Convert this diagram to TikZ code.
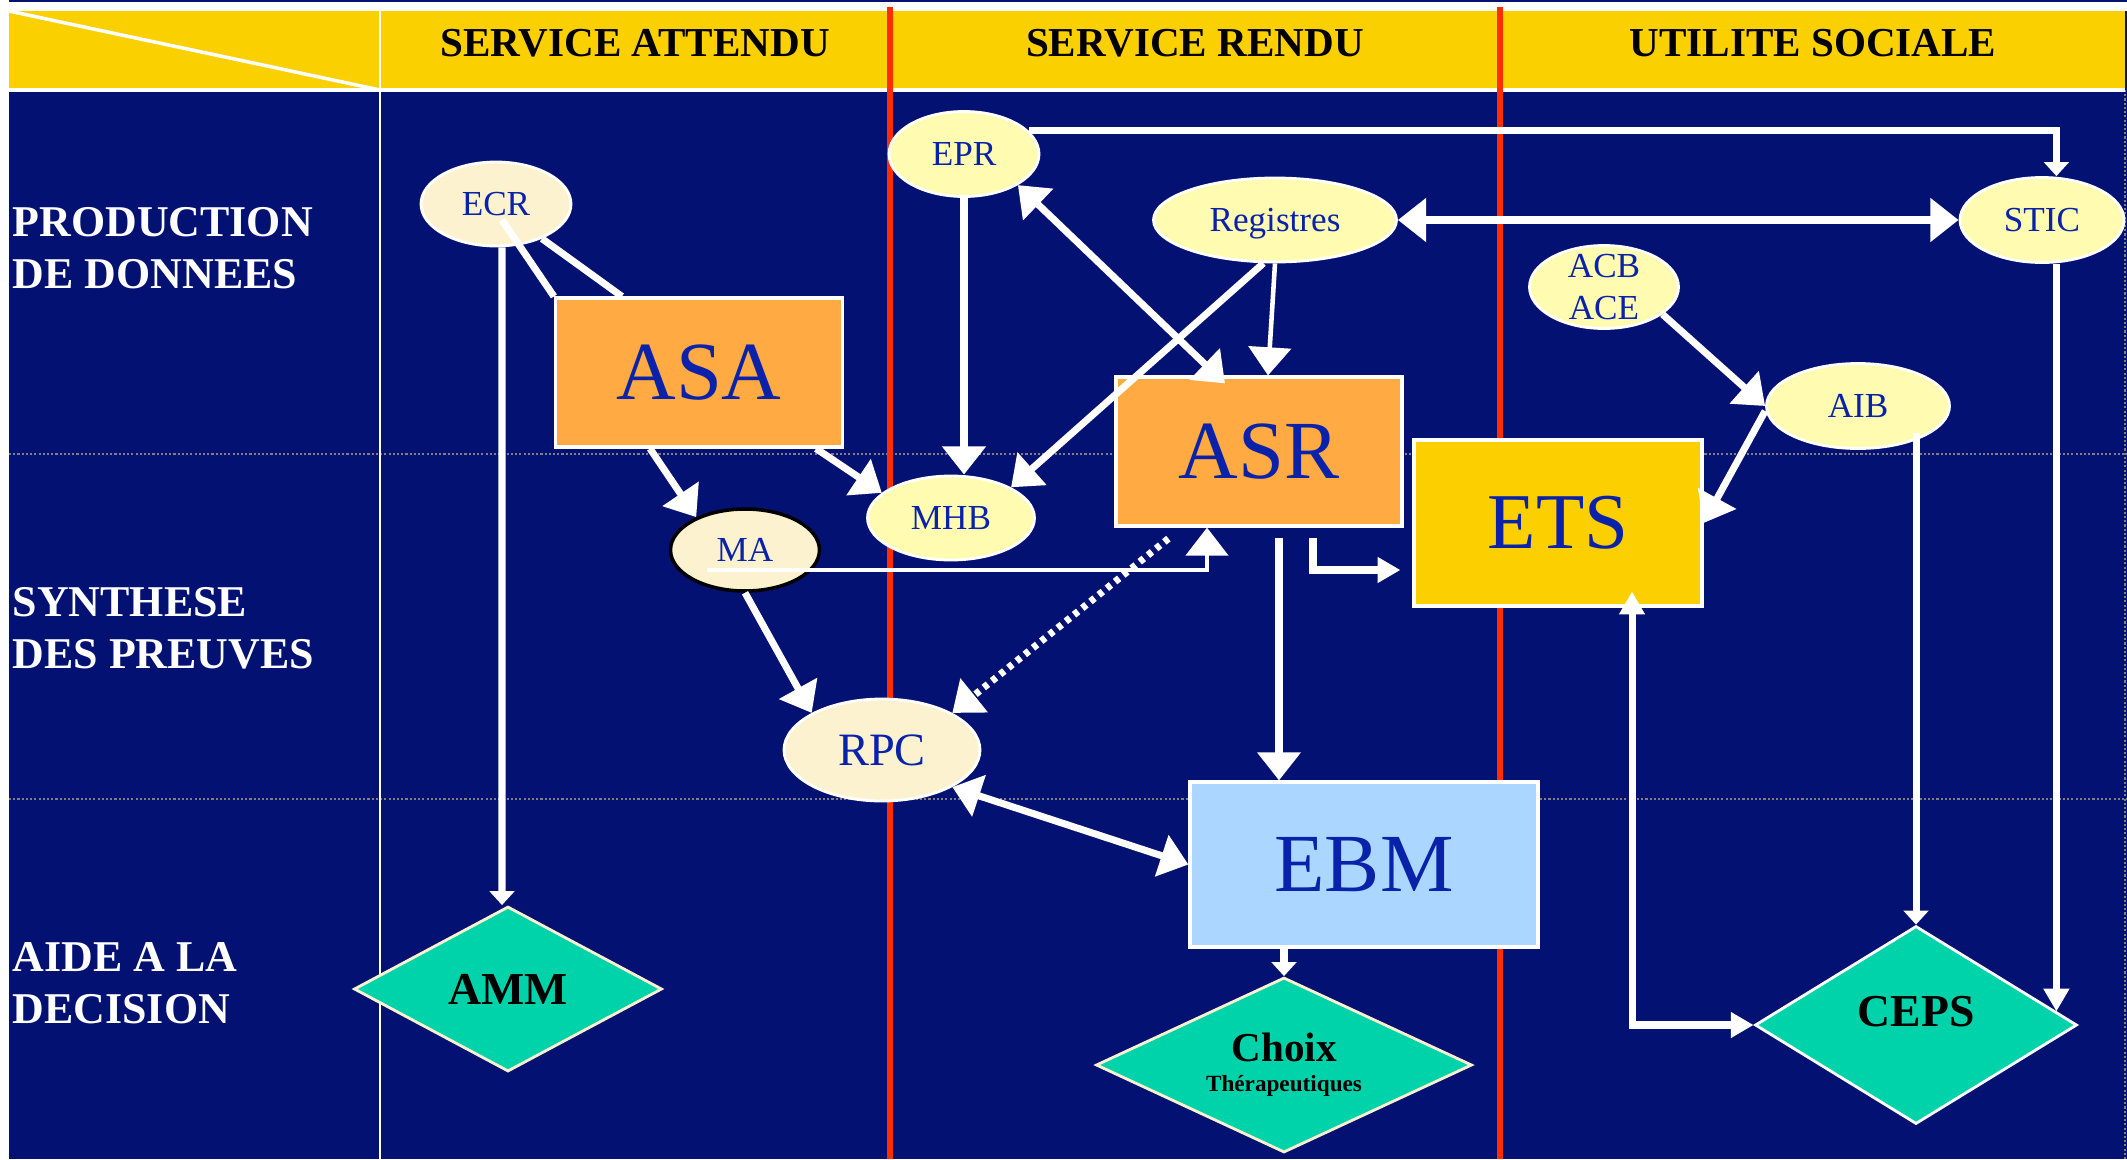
\documentclass[tikz,border=0pt]{standalone}
\usepackage{fontspec}
\setmainfont{Liberation Serif}
\usetikzlibrary{shapes.geometric,arrows.meta,calc}

\definecolor{fond}{RGB}{3,18,114}
\definecolor{bandeau}{RGB}{251,208,0}
\definecolor{trait}{RGB}{255,45,0}
\definecolor{orangeB}{RGB}{255,170,66}
\definecolor{jauneB}{RGB}{252,208,0}
\definecolor{bleuB}{RGB}{170,214,255}
\definecolor{creme}{RGB}{253,242,208}
\definecolor{paille}{RGB}{255,251,176}
\definecolor{vert}{RGB}{0,210,170}
\definecolor{encre}{RGB}{10,34,170}

\begin{document}
\begin{tikzpicture}[
  titre/.style={font=\bfseries\fontsize{11.7}{14}\selectfont},
  ligne/.style={anchor=north west, inner sep=0pt, align=left, text=white, font=\bfseries\fontsize{12.5}{14.8}\selectfont},
  bulle/.style={ellipse, draw=white, line width=0.8pt, fill=paille, inner sep=0pt, text depth=0pt, text=encre, font=\fontsize{10}{12}\selectfont},
  boite/.style={rectangle, draw=white, line width=0.9pt, inner sep=0pt, text=encre, font=\fontsize{23.5}{26}\selectfont},
  losange/.style={diamond, aspect=2, draw=white, line width=0.8pt, fill=vert, inner sep=0pt, font=\bfseries\fontsize{13}{15}\selectfont},
  lien/.style={white, line width=2pt},
  fleche/.style={lien, -{Triangle[width=12pt,length=8pt]}},
  doublefleche/.style={lien, {Triangle[width=12pt,length=8pt]}-{Triangle[width=12pt,length=8pt]}},
  moyennefleche/.style={lien, -{Triangle[width=7pt,length=6.5pt]}},
  petitefleche/.style={lien, -{Triangle[width=7pt,length=4pt]}}
]

\def\W{21.27}
\def\H{11.59}
\def\xA{3.80}
\def\xB{8.90}
\def\xC{15.00}
\def\yT{11.48}
\def\yH{10.69}

\useasboundingbox (0,0) rectangle (\W,\H);
\fill[white] (0,0) rectangle (\W,\H);
\fill[fond] (0.09,0) rectangle (\W,\H);
\fill[white] (0.09,\yT) rectangle (\W,11.57);
\fill[bandeau] (0.09,\yH) rectangle (21.25,\yT);

\draw[gray, line width=0.7pt, dash pattern=on 0.6pt off 0.6pt] (0.09,7.05) -- (\W,7.05);
\draw[gray, line width=0.7pt, dash pattern=on 0.6pt off 0.6pt] (0.09,3.60) -- (\W,3.60);
\draw[gray, line width=0.7pt, dash pattern=on 0.6pt off 0.6pt] (21.25,\yH) -- (21.25,0);

\draw[white, line width=0.9pt] (0.09,\yH) -- (21.25,\yH);
\draw[white, line width=1pt] (0.09,\yT) -- (\xA,\yH);
\draw[white, line width=0.6pt] (\xA,\yT) -- (\xA,0);

\draw[trait, line width=1.8pt] (\xB,11.52) -- (\xB,0);
\draw[trait, line width=1.8pt] (\xC,11.52) -- (\xC,0);

\node[titre] (hSA) at (6.35,11.155) {SERVICE ATTENDU};
\node[titre] (hSR) at (11.95,11.155) {SERVICE RENDU};
\node[titre] (hUS) at (18.13,11.155) {UTILITE SOCIALE};

\node[ligne] (lProd) at (0.12,9.52) {PRODUCTION\\DE DONNEES};
\node[ligne] (lSynt) at (0.12,5.72) {SYNTHESE\\DES PREUVES};
\node[ligne] (lAide) at (0.12,2.17) {AIDE A LA\\DECISION};

\node[bulle, fill=creme, minimum width=1.50cm, minimum height=0.84cm] (ECR) at (4.96,9.55) {ECR};
\node[boite, fill=orangeB, minimum width=2.87cm, minimum height=1.49cm] (ASA) at (6.99,7.865) {ASA};
\node[bulle, minimum width=1.50cm, minimum height=0.85cm] (EPR) at (9.64,10.05) {EPR};
\node[bulle, minimum width=2.43cm, minimum height=0.84cm] (Registres) at (12.75,9.39) {Registres};
\node[bulle, minimum width=1.64cm, minimum height=0.85cm] (STIC) at (20.42,9.39) {STIC};
\node[bulle, minimum width=1.49cm, minimum height=0.83cm, align=center, inner sep=-0.5mm] (ACB) at (16.04,8.72) {ACB\\ACE};
\node[bulle, minimum width=1.83cm, minimum height=0.85cm] (AIB) at (18.58,7.53) {AIB};
\node[boite, fill=orangeB, minimum width=2.86cm, minimum height=1.49cm] (ASR) at (12.59,7.075) {ASR};
\node[boite, fill=jauneB, minimum width=2.88cm, minimum height=1.66cm, font=\fontsize{22.5}{26}\selectfont] (ETS) at (15.58,6.36) {ETS};
\node[bulle, minimum width=1.67cm, minimum height=0.84cm] (MHB) at (9.51,6.41) {MHB};
\node[bulle, fill=creme, draw=black, line width=1pt, minimum width=1.49cm, minimum height=0.82cm] (MA) at (7.45,6.09) {MA};
\node[bulle, fill=creme, minimum width=1.96cm, minimum height=1.02cm, font=\fontsize{13.2}{15}\selectfont] (RPC) at (8.82,4.09) {RPC};
\node[boite, fill=bleuB, minimum width=3.48cm, minimum height=1.65cm] (EBM) at (13.64,2.945) {EBM};
\node[losange, draw=creme, minimum width=3.08cm, minimum height=1.65cm] (AMM) at (5.08,1.70) {AMM};
\node[losange, draw=creme, minimum width=3.76cm, minimum height=1.75cm, align=center, font=\bfseries\fontsize{11.7}{14}\selectfont] (Choix) at (12.84,0.94) {Choix\\[-5.5pt]{\fontsize{6.6}{8}\selectfont Thérapeutiques}};
\node[losange, minimum width=3.22cm, minimum height=1.98cm] (CEPS) at (19.16,1.34) {\raisebox{2.8mm}{CEPS}};

\coordinate (cepsNE) at ([shift={(-0.22,0.135)}]CEPS.east);

\draw[lien] ([shift={(0.06,-0.16)}]ECR.center) -- (ASA.north west);
\draw[lien] (ECR.-37) -- ([xshift=6.8mm]ASA.north west);
\draw[petitefleche] ([xshift=0.6mm]ECR.south) -- ([xshift=-0.6mm]AMM.north);
\draw[fleche] ([xshift=-4.9mm]ASA.south) -- (MA.146);
\draw[fleche] ([xshift=-2.8mm]ASA.south east) -- (MHB.160);

\draw[fleche] (EPR.south) -- (EPR.south |- MHB.north);
\draw[fleche] (Registres.255) -- (MHB.north east);
\draw[doublefleche] (EPR.-30) -- ([xshift=-3.4mm,yshift=-0.8mm]ASR.north);
\draw[fleche, line width=1.3pt] (Registres.south) -- ([xshift=0.9mm]ASR.north);
\draw[doublefleche] (Registres.east) -- (STIC.west);
\draw[petitefleche] (EPR.20) -| (cepsNE |- STIC.north);
\draw[moyennefleche] (cepsNE |- STIC.south) -- (cepsNE);

\draw[fleche] (ACB.-25) -- (AIB.west);
\draw[fleche] ([yshift=-0.5mm]AIB.west) -- (ETS.east);
\draw[petitefleche] ($(CEPS.north |- AIB.south)+(0,0.17)$) -- (CEPS.north);
\draw[lien, {Triangle[width=7pt,length=6.5pt]}-{Triangle[width=7pt,length=6.5pt]}] ([xshift=7.4mm,yshift=1.6mm]ETS.south) |- (CEPS.west);

\draw[moyennefleche] ([xshift=5.4mm,yshift=-1mm]ASR.south) |- ([xshift=-1.2mm,yshift=-4.7mm]ETS.west);
\draw[fleche] ($(ASR.south)+(0.2,-0.1)$) -- ($(ASR.south |- EBM.north)+(0.2,0)$);
\draw[fleche, line width=1.3pt] ([shift={(-0.38,-0.2)}]MA.center) -| ([xshift=-5.2mm]ASR.south);
\draw[fleche, dash pattern=on 1.5pt off 1.5pt] ([shift={(0.54,-0.11)}]ASR.south west) -- (RPC.north east);
\draw[fleche] (MA.south) -- (RPC.north west);
\draw[doublefleche] (RPC.south east) -- (EBM.west);
\draw[petitefleche] (Choix.north |- EBM.south) -- (Choix.north);
\end{tikzpicture}
\end{document}
